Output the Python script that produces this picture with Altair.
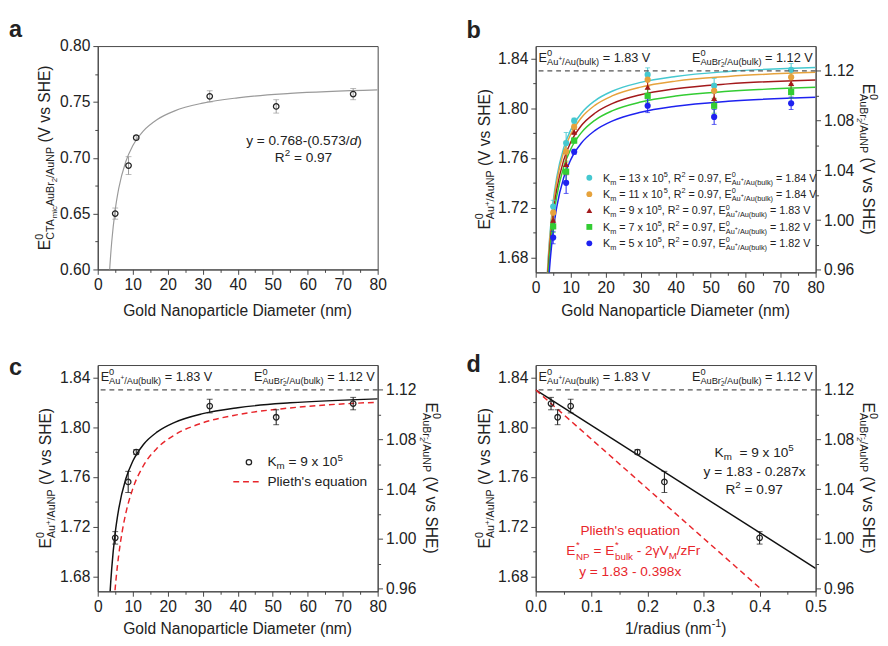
import altair as alt
import pandas as pd

FONT = "Liberation Sans"
INK = "#222222"
AXC = "#444444"
RED = "#e8262b"

# ---------------- data ----------------
# panel a
a_diam = [5, 8.8, 11, 32, 51, 73]
a_E = [0.650, 0.693, 0.718, 0.755, 0.746, 0.757]
a_err = [0.005, 0.008, 0.002, 0.005, 0.006, 0.005]
a_fit_d = [3.3, 3.5, 4, 5, 6, 8, 10, 13, 17, 22, 30, 40, 55, 80]
a_fit_E = [0.5944, 0.6043, 0.6248, 0.6534, 0.6725, 0.6964, 0.7107, 0.7239, 0.7343, 0.7420, 0.7489, 0.7537, 0.7576, 0.7608]

# panel b
b_diam = [5, 8.7, 11, 32, 51, 73]
b_series = ["13", "11", "9", "7", "5"]
b_bulk = ["1.84", "1.84", "1.83", "1.82", "1.82"]
b_E = {
    "13": [1.721, 1.772, 1.790, 1.827, 1.818, 1.831],
    "11": [1.716, 1.765, 1.785, 1.823, 1.814, 1.825],
    "9": [1.710, 1.755, 1.781, 1.817, 1.808, 1.820],
    "7": [1.705, 1.749, 1.774, 1.810, 1.802, 1.813],
    "5": [1.696, 1.740, 1.765, 1.802, 1.793, 1.804],
}
b_err = [0.005, 0.0085, 0.002, 0.0055, 0.006, 0.005]
b_fit_d = [3, 3.5, 4, 5, 6, 8, 10, 13, 17, 22, 30, 40, 55, 80]
b_fit_E = {
    "13": [1.6483, 1.6757, 1.6963, 1.7250, 1.7442, 1.7681, 1.7825, 1.7958, 1.8062, 1.8139, 1.8208, 1.8256, 1.8296, 1.8328],
    "11": [1.6460, 1.6731, 1.6935, 1.7220, 1.7410, 1.7648, 1.7790, 1.7922, 1.8025, 1.8101, 1.8170, 1.8218, 1.8256, 1.8289],
    "9": [1.6387, 1.6660, 1.6865, 1.7152, 1.7343, 1.7583, 1.7726, 1.7859, 1.7962, 1.8039, 1.8109, 1.8157, 1.8196, 1.8228],
    "7": [1.6340, 1.6611, 1.6815, 1.7100, 1.7290, 1.7528, 1.7670, 1.7802, 1.7905, 1.7981, 1.8050, 1.8098, 1.8136, 1.8169],
    "5": [1.6243, 1.6517, 1.6723, 1.7010, 1.7202, 1.7441, 1.7585, 1.7718, 1.7822, 1.7899, 1.7968, 1.8016, 1.8056, 1.8088],
}
b_colors = ["#45c8d0", "#e6a23c", "#a3191b", "#33cc33", "#1e22f0"]
b_shapes = ["circle", "circle", "triangle-up", "square", "circle"]

# panel c
c_diam = [5, 8.7, 11, 32, 51, 73]
c_E = [1.711, 1.756, 1.780, 1.817, 1.808, 1.819]
c_err = [0.005, 0.0085, 0.002, 0.0055, 0.006, 0.005]
c_fit_d = [3, 3.5, 4, 5, 6, 8, 10, 13, 17, 22, 30, 40, 55, 80]
c_fit_E = [1.6387, 1.6660, 1.6865, 1.7152, 1.7343, 1.7583, 1.7726, 1.7859, 1.7962, 1.8039, 1.8109, 1.8157, 1.8196, 1.8228]
c_pl_d = [4.5, 5, 5.5, 6, 7, 8, 10, 13, 17, 22, 30, 40, 55, 80]
c_pl_E = [1.6531, 1.6708, 1.6853, 1.6973, 1.7163, 1.7305, 1.7504, 1.7688, 1.7832, 1.7938, 1.8035, 1.8101, 1.8155, 1.8201]

# panel d
d_inv = [0.0274, 0.0392, 0.0625, 0.1818, 0.2299, 0.4]
d_E = [1.819, 1.808, 1.817, 1.780, 1.756, 1.711]
d_err = [0.005, 0.006, 0.0055, 0.002, 0.0085, 0.005]
d_fit_x = [0.0, 0.5]
d_fit_E = [1.83, 1.6865]
d_pl_x = [0.0, 0.4]
d_pl_E = [1.83, 1.6708]

# axis tick values
x_diam_ticks = [0, 5, 10, 15, 20, 25, 30, 35, 40, 45, 50, 55, 60, 65, 70, 75, 80]
x_inv_ticks = [0.0, 0.05, 0.1, 0.15, 0.2, 0.25, 0.3, 0.35, 0.4, 0.45, 0.5]
y_a_ticks = [0.6, 0.625, 0.65, 0.675, 0.7, 0.725, 0.75, 0.775, 0.8]
y_l_ticks = [1.68, 1.70, 1.72, 1.74, 1.76, 1.78, 1.80, 1.82, 1.84]
y_r_ticks = [0.96, 0.98, 1.00, 1.02, 1.04, 1.06, 1.08, 1.10, 1.12]
right_ref = [1.12]

# ---------------- text helpers ----------------
W = {c: 556 for c in "0123456789"}
W.update({' ': 278, '(': 333, ')': 333, '*': 389, '+': 584, ',': 278, '-': 333, '.': 278, '/': 278,
          '=': 584, "'": 191, 'γ': 500,
          'A': 667, 'B': 667, 'C': 722, 'D': 722, 'E': 667, 'F': 611, 'G': 778, 'H': 722, 'K': 667,
          'M': 833, 'N': 722, 'P': 667, 'R': 722, 'S': 667, 'T': 611, 'V': 667,
          'a': 556, 'b': 556, 'c': 500, 'd': 556, 'e': 556, 'g': 556, 'h': 556, 'i': 222, 'k': 500,
          'l': 222, 'm': 833, 'n': 556, 'o': 556, 'p': 556, 'q': 556, 'r': 333, 's': 500, 't': 278,
          'u': 556, 'v': 500, 'x': 500, 'y': 500, 'z': 500})


def tw(s, size):
    return sum(W.get(c, 556) for c in s) * size / 1000.0


def P(text, size, shift=0, adv=True, italic=False, bold=False, gap=0.0):
    return dict(text=text, size=size, shift=shift, adv=adv, italic=italic, bold=bold, gap=gap)


def rich(pieces, x, y, anchor="start", angle=0, color=INK):
    total = sum(tw(p["text"], p["size"]) + p["gap"] for p in pieces if p["adv"])
    pos = {"start": 0.0, "middle": -total / 2.0, "end": -total}[anchor]
    out = []
    for p in pieces:
        t = p["text"]
        lead = len(t) - len(t.lstrip(" "))
        core = t.strip(" ")
        off = pos + p["gap"] + tw(" " * lead, p["size"])
        if core:
            if angle == 0:
                px, py = x + off, y - p["shift"]
            elif angle == 270:
                px, py = x - p["shift"], y - off
            else:
                px, py = x + p["shift"], y + off
            mk = dict(align="left", baseline="alphabetic", font=FONT, fontSize=p["size"], color=color)
            if angle:
                mk["angle"] = angle
            if p["italic"]:
                mk["fontStyle"] = "italic"
            if p["bold"]:
                mk["fontWeight"] = "bold"
            out.append(alt.Chart(pd.DataFrame({"label": [core]})).mark_text(**mk).encode(
                text="label:N", x=alt.value(round(px, 2)), y=alt.value(round(py, 2))))
        if p["adv"]:
            pos += tw(t, p["size"]) + p["gap"]
    return out


def axis(orient, values, test, fmt):
    return alt.Axis(orient=orient, values=values, title=None, grid=False,
                    labelExpr=f"({test}) ? format(datum.value, '{fmt}') : ''",
                    tickSize={"condition": {"test": test, "value": 5}, "value": 3},
                    labelFont=FONT, labelFontSize=16, labelColor=INK, labelPadding=3,
                    labelOverlap=False, labelFlush=False, tickColor=AXC, domainColor=AXC,
                    tickWidth=1, domainWidth=1)


T10 = "datum.value % 10 == 0"
T01 = "abs(datum.value*10 - round(datum.value*10)) < 0.001"
T05 = "abs(datum.value*20 - round(datum.value*20)) < 0.001"
T04 = "abs(datum.value*25 - round(datum.value*25)) < 0.001"

WP, HA, HB = 287, 229, 232
XS_D = alt.Scale(domain=[0, 80], nice=False, zero=False)
XS_I = alt.Scale(domain=[0, 0.5], nice=False, zero=False)
YS_A = alt.Scale(domain=[0.6, 0.8], nice=False, zero=False)
YS_L = alt.Scale(domain=[1.668, 1.85], nice=False, zero=False)
YS_R = alt.Scale(domain=[0.958, 1.14], nice=False, zero=False)
XA_D = axis("bottom", x_diam_ticks, T10, ".0f")
XA_I = axis("bottom", x_inv_ticks, T01, ".1f")
YA_A = axis("left", y_a_ticks, T05, ".2f")
YA_L = axis("left", y_l_ticks, T04, ".2f")
YA_R = axis("right", y_r_ticks, T04, ".2f")


def X(field, scale, ax):
    return alt.X(field, type="quantitative", scale=scale, axis=ax)


def Y(field, scale, ax):
    return alt.Y(field, type="quantitative", scale=scale, axis=ax)


def ytitle_left(x, h):
    return rich([P("E", 16), P("0", 11, 7, adv=False), P("Au", 11, -4), P("+", 8, 0),
                 P("/AuNP", 11, -4), P(" (V vs SHE)", 16)], x, h / 2, "middle", 270)


def ytitle_right(x, h):
    return rich([P("E", 16), P("0", 11, 7, adv=False), P("AuBr", 11, -4), P("-", 8, 0, adv=False),
                 P("2", 8, -7), P("/AuNP", 11, -4), P(" (V vs SHE)", 16)], x, h / 2, "middle", 90)


def bulk_labels():
    left = rich([P("E", 13), P("0", 9.5, 6, adv=False), P("Au", 9.5, -3), P("+", 6.5, 1),
                 P("/Au(bulk)", 9.5, -3), P(" = 1.83 V", 13)], 3, 16)
    right = rich([P("E", 13), P("0", 9.5, 6, adv=False), P("AuBr", 9.5, -3), P("-", 6.5, 1, adv=False),
                  P("2", 6.5, -5), P("/Au(bulk)", 9.5, -3), P(" = 1.12 V", 13)], WP - 3, 16, "end")
    return left + right


def right_axis_layer():
    return alt.Chart(pd.DataFrame({"v": right_ref})).mark_rule(
        color="#555555", strokeDash=[5, 4], strokeWidth=1.2).encode(y=Y("v", YS_R, YA_R))


# ---------------- panel a ----------------
dfa = pd.DataFrame({"d": a_diam, "E": a_E, "err": a_err})
dfa["lo"] = dfa["E"] - dfa["err"]
dfa["hi"] = dfa["E"] + dfa["err"]
a_fit = alt.Chart(pd.DataFrame({"d": a_fit_d, "E": a_fit_E})).mark_line(
    color="#9a9a9a", strokeWidth=1.2, clip=True, interpolate="monotone").encode(
    x=X("d", XS_D, XA_D), y=Y("E", YS_A, YA_A))
a_eb = alt.Chart(dfa).mark_errorbar(color="#9a9a9a", ticks={"size": 6}, thickness=1).encode(
    x=X("d", XS_D, XA_D), y=Y("lo", YS_A, YA_A), y2="hi:Q")
a_pt = alt.Chart(dfa).mark_point(shape="circle", filled=False, size=32, strokeWidth=1.3, color=INK,
                                 opacity=1).encode(x=X("d", XS_D, XA_D), y=Y("E", YS_A, YA_A))
a_txt = []
a_txt += rich([P("a", 24, bold=True)], -91, -9)
a_txt += rich([P("E", 16), P("0", 11, 7, adv=False), P("CTA", 11, -4), P("mic", 8, -7), P("AuBr", 11, -4),
               P("2", 8, -7), P("/AuNP", 11, -4), P(" (V vs SHE)", 16)], -49, HA / 2, "middle", 270)
a_txt += rich([P("Gold Nanoparticle Diameter (nm)", 16)], WP / 2, HA + 48, "middle")
a_txt += rich([P("y = 0.768-(0.573/", 14), P("d", 14, italic=True), P(")", 14)], 211.5, 101, "middle")
a_txt += rich([P("R", 14), P("2", 10, 6), P(" = 0.97", 14)], 211, 119, "middle")
panel_a = alt.layer(a_fit, a_eb, a_pt, *a_txt).properties(width=WP, height=HA)

# ---------------- panel b ----------------
rows_fit, rows_pt = [], []
for s in b_series:
    for d, e in zip(b_fit_d, b_fit_E[s]):
        rows_fit.append({"d": d, "E": e, "s": s})
    for d, e, r in zip(b_diam, b_E[s], b_err):
        rows_pt.append({"d": d, "E": e, "lo": e - r, "hi": e + r, "s": s})
dfb_fit = pd.DataFrame(rows_fit)
dfb = pd.DataFrame(rows_pt)
CS = alt.Color("s:N", scale=alt.Scale(domain=b_series, range=b_colors), legend=None)
SS = alt.Shape("s:N", scale=alt.Scale(domain=b_series, range=b_shapes), legend=None)
b_fit = alt.Chart(dfb_fit).mark_line(strokeWidth=1.5, clip=True, interpolate="monotone").encode(
    x=X("d", XS_D, XA_D), y=Y("E", YS_L, YA_L), color=CS, detail="s:N")
b_eb = alt.Chart(dfb).mark_errorbar(ticks={"size": 5}, thickness=1).encode(
    x=X("d", XS_D, XA_D), y=Y("lo", YS_L, YA_L), y2="hi:Q", color=CS)
b_pt = alt.Chart(dfb).mark_point(filled=True, size=40, opacity=1).encode(
    x=X("d", XS_D, XA_D), y=Y("E", YS_L, YA_L), color=CS, shape=SS)
b_inner = alt.layer(b_fit, b_eb, b_pt)
b_txt = []
b_txt += rich([P("b", 24, bold=True)], -71, -8)
b_txt += ytitle_left(-47, HB)
b_txt += ytitle_right(WP + 49, HB)
b_txt += rich([P("Gold Nanoparticle Diameter (nm)", 16)], WP / 2, HB + 45, "middle")
b_txt += bulk_labels()
leg_y = [135, 151.8, 168.6, 185.4, 202.2]
b_leg = []
for i, s in enumerate(b_series):
    b_leg.append(alt.Chart(pd.DataFrame({"s": [s]})).mark_point(
        shape=b_shapes[i], filled=True, size=36, color=b_colors[i], opacity=1).encode(
        x=alt.value(55), y=alt.value(leg_y[i])))
    b_leg += rich([P("K", 11), P("m", 7.5, -3), P(f" = {s} x 10", 11), P("5", 7.5, 5), P(", R", 11),
                   P("2", 7.5, 5), P(" = 0.97, E", 11), P("0", 7.5, 5, adv=False), P("Au", 7.5, -3),
                   P("+", 5.5, 1), P("/Au(bulk)", 7.5, -3), P(f" = {b_bulk[i]} V", 11)], 69, leg_y[i] + 4)
panel_b = alt.layer(b_inner, right_axis_layer(), *b_txt, *b_leg).resolve_scale(y="independent").properties(
    width=WP, height=HB)

# ---------------- panel c ----------------
dfc = pd.DataFrame({"d": c_diam, "E": c_E, "err": c_err})
dfc["lo"] = dfc["E"] - dfc["err"]
dfc["hi"] = dfc["E"] + dfc["err"]
c_fit = alt.Chart(pd.DataFrame({"d": c_fit_d, "E": c_fit_E})).mark_line(
    color="#111111", strokeWidth=1.5, clip=True, interpolate="monotone").encode(
    x=X("d", XS_D, XA_D), y=Y("E", YS_L, YA_L))
c_pl = alt.Chart(pd.DataFrame({"d": c_pl_d, "E": c_pl_E})).mark_line(
    color=RED, strokeWidth=1.5, strokeDash=[6, 4], clip=True, interpolate="monotone").encode(
    x=X("d", XS_D, XA_D), y=Y("E", YS_L, YA_L))
c_eb = alt.Chart(dfc).mark_errorbar(color="#111111", ticks={"size": 6}, thickness=1).encode(
    x=X("d", XS_D, XA_D), y=Y("lo", YS_L, YA_L), y2="hi:Q")
c_pt = alt.Chart(dfc).mark_point(shape="circle", filled=False, size=32, strokeWidth=1.3, color=INK,
                                 opacity=1).encode(x=X("d", XS_D, XA_D), y=Y("E", YS_L, YA_L))
c_inner = alt.layer(c_fit, c_pl, c_eb, c_pt)
c_txt = []
c_txt += rich([P("c", 24, bold=True)], -91, 10)
c_txt += ytitle_left(-48, HB)
c_txt += ytitle_right(WP + 50, HB)
c_txt += rich([P("Gold Nanoparticle Diameter (nm)", 16)], WP / 2, HB + 44, "middle")
c_txt += bulk_labels()
c_txt.append(alt.Chart(pd.DataFrame({"s": ["9"]})).mark_point(
    shape="circle", filled=False, size=30, strokeWidth=1.3, color=INK, opacity=1).encode(
    x=alt.value(155), y=alt.value(99.7)))
c_txt += rich([P("K", 14), P("m", 10, -3), P(" = 9 x 10", 14), P("5", 10, 6)], 174, 104)
c_txt.append(alt.Chart(pd.DataFrame({"s": ["Plieth"]})).mark_rule(
    color=RED, strokeDash=[6, 4], strokeWidth=1.5).encode(
    x=alt.value(139), x2=alt.value(169), y=alt.value(119.7)))
c_txt += rich([P("Plieth's equation", 14)], 174, 124)
panel_c = alt.layer(c_inner, right_axis_layer(), *c_txt).resolve_scale(y="independent").properties(
    width=WP, height=HB)

# ---------------- panel d ----------------
dfd = pd.DataFrame({"r": d_inv, "E": d_E, "err": d_err})
dfd["lo"] = dfd["E"] - dfd["err"]
dfd["hi"] = dfd["E"] + dfd["err"]
d_fit = alt.Chart(pd.DataFrame({"r": d_fit_x, "E": d_fit_E})).mark_line(
    color="#111111", strokeWidth=1.5, clip=True).encode(x=X("r", XS_I, XA_I), y=Y("E", YS_L, YA_L))
d_pl = alt.Chart(pd.DataFrame({"r": d_pl_x, "E": d_pl_E})).mark_line(
    color=RED, strokeWidth=1.5, strokeDash=[6, 4], clip=True).encode(
    x=X("r", XS_I, XA_I), y=Y("E", YS_L, YA_L))
d_eb = alt.Chart(dfd).mark_errorbar(color="#111111", ticks={"size": 6}, thickness=1).encode(
    x=X("r", XS_I, XA_I), y=Y("lo", YS_L, YA_L), y2="hi:Q")
d_pt = alt.Chart(dfd).mark_point(shape="circle", filled=False, size=32, strokeWidth=1.3, color=INK,
                                 opacity=1).encode(x=X("r", XS_I, XA_I), y=Y("E", YS_L, YA_L))
d_inner = alt.layer(d_fit, d_pl, d_eb, d_pt)
d_txt = []
d_txt += rich([P("d", 24, bold=True)], -71, 7)
d_txt += ytitle_left(-47, HB)
d_txt += ytitle_right(WP + 49, HB)
d_txt += rich([P("1/radius (nm", 16), P("-1", 11, 7), P(")", 16)], WP / 2, HB + 44, "middle")
d_txt += bulk_labels()
d_txt += rich([P("K", 14), P("m", 10, -3), P("  = 9 x 10", 14), P("5", 10, 6)], 224, 94, "middle")
d_txt += rich([P("y = 1.83 - 0.287x", 14)], 224.5, 114, "middle")
d_txt += rich([P("R", 14), P("2", 10, 6), P(" = 0.97", 14)], 224, 132, "middle")
d_txt += rich([P("Plieth's equation", 14)], 97, 174, "middle", color=RED)
d_txt += rich([P("E", 14), P("*", 10, 7.5, adv=False, gap=0.8), P("NP", 10, -4.5, gap=0.8), P(" = E", 14),
               P("*", 10, 7.5, adv=False, gap=0.8), P("bulk", 10, -4.5, gap=0.8), P(" - 2γV", 14),
               P("M", 10, -4), P("/zFr", 14)], 100, 195, "middle", color=RED)
d_txt += rich([P("y = 1.83 - 0.398x", 14)], 97, 216, "middle", color=RED)
panel_d = alt.layer(d_inner, right_axis_layer(), *d_txt).resolve_scale(y="independent").properties(
    width=WP, height=HB)

chart = alt.concat(panel_a, panel_b, panel_c, panel_d, columns=2,
                   spacing={"row": 33, "column": 23}).properties(
    padding={"top": 2, "left": 0, "right": 0, "bottom": 0}).configure_view(
    stroke=AXC, strokeWidth=1)

chart.save("out.html", embed_options={"renderer": "svg", "actions": False})
